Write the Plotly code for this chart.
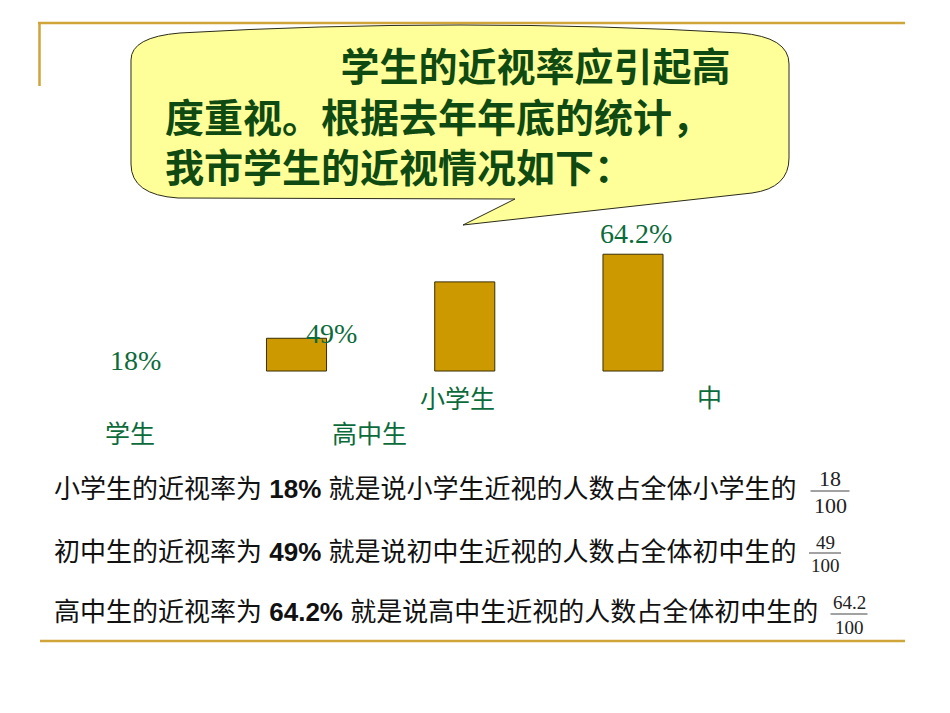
import plotly.graph_objects as go

# ---------------- data ----------------
CATEGORIES = ["小学生", "初中生", "高中生"]
RATES = [18, 49, 64.2]
DENOMINATOR = 100
BUBBLE_LINES = ["学生的近视率应引起高", "度重视。根据去年年底的统计，", "我市学生的近视情况如下："]
CATEGORY_PIECES = ["小学生", "中", "学生", "高中生"]
SENTENCE_HEADS = ["小学生的近视率为", "初中生的近视率为", "高中生的近视率为"]
SENTENCE_TAILS = ["就是说小学生近视的人数占全体小学生的",
                  "就是说初中生近视的人数占全体初中生的",
                  "就是说高中生近视的人数占全体初中生的"]

# ---------------- layout helpers ----------------
W, H = 950, 713


def px(x):
    return x / W


def py(y):
    return 1 - y / H


GOLD = "#CFA53A"
GREEN = "#0B6B3A"
DARK_GREEN = "#0E4A12"

fig = go.Figure(
    go.Bar(
        x=CATEGORIES,
        y=RATES,
        width=0.357,
        marker=dict(color="#CC9900", line=dict(color="#3A2E00", width=1)),
        hoverinfo="skip",
    )
)

shapes = []
# decorative gold frame lines
shapes.append(dict(type="line", xref="paper", yref="paper", x0=px(38), x1=px(905), y0=py(23), y1=py(23),
                   line=dict(color=GOLD, width=2.5)))
shapes.append(dict(type="line", xref="paper", yref="paper", x0=px(39.5), x1=px(39.5), y0=py(23), y1=py(86),
                   line=dict(color=GOLD, width=2.5)))
shapes.append(dict(type="line", xref="paper", yref="paper", x0=px(40), x1=px(905), y0=py(641), y1=py(641),
                   line=dict(color=GOLD, width=2.5)))

# speech bubble
pts = [
    ("M", [(131, 60)]),
    ("L", [(131, 164)]),
    ("Q", [(131, 195), (178, 198)]),
    ("L", [(515, 199)]),
    ("L", [(463, 225)]),
    ("L", [(752, 193)]),
    ("Q", [(789, 188), (789, 158)]),
    ("L", [(789, 64)]),
    ("Q", [(789, 37), (740, 33)]),
    ("Q", [(460, 17), (180, 33)]),
    ("Q", [(131, 37), (131, 60)]),
]
path = ""
for cmd, coords in pts:
    path += cmd + " " + " ".join(f"{px(x):.5f},{py(y):.5f}" for x, y in coords) + " "
path += "Z"
shapes.append(dict(type="path", xref="paper", yref="paper", path=path,
                   fillcolor="#FFFF99", line=dict(color="#2B2B1A", width=1), layer="above"))

annotations = []


def ann(text, x, y, size, color, family, xanchor="center", align="center"):
    annotations.append(dict(text=text, x=px(x), y=py(y), xref="paper", yref="paper",
                            xanchor=xanchor, yanchor="middle", showarrow=False, align=align,
                            font=dict(size=size, color=color, family=family)))


# bubble text: one block, first line indented
indent = "\u3000\u3000\u3000\u3000\u2002"
bubble_text = "<br>".join([indent + BUBBLE_LINES[0]] + BUBBLE_LINES[1:])
ann(f"<b>{bubble_text}</b>", 163, 114, 39, DARK_GREEN, "Noto Sans CJK SC", "left", "left")

# value labels (misplaced as in the original slide)
value_pos = [(135, 360), (331, 334), (636, 233)]
for v, (x, y) in zip(RATES, value_pos):
    ann(f"{v:g}%", x, y, 28, GREEN, "Liberation Serif")

# category label pieces (wrapped text box)
cat_pos = [(457, 397), (709, 396), (130, 432), (369, 432)]
for t, (x, y) in zip(CATEGORY_PIECES, cat_pos):
    ann(t, x, y, 25, GREEN, "Noto Sans CJK SC")

# explanation sentences
sent_y = [489, 552, 612]
for head, v, tail, y in zip(SENTENCE_HEADS, RATES, SENTENCE_TAILS, sent_y):
    ann(f"{head} <b>{v:g}%</b> {tail}", 52, y, 26, "#111111", "Liberation Sans, Noto Sans CJK SC", "left")

# fractions
frac_layout = [  # center x, numerator y, bar y, denominator y, bar half width, font size
    (830, 478, 491, 505, 19.5, 22),
    (825, 542, 553, 565, 16, 19),
    (849, 602, 614, 627, 18.5, 19),
]
for v, (cx, ny, by, dy, hw, fs) in zip(RATES, frac_layout):
    ann(f"{v:g}", cx, ny, fs, "#222222", "Liberation Serif")
    ann(f"{DENOMINATOR}", cx, dy, fs, "#222222", "Liberation Serif")
    shapes.append(dict(type="line", xref="paper", yref="paper", x0=px(cx - hw), x1=px(cx + hw),
                       y0=py(by), y1=py(by), line=dict(color="#444444", width=1)))

fig.update_layout(
    width=W, height=H,
    margin=dict(l=0, r=0, t=0, b=0),
    paper_bgcolor="white", plot_bgcolor="rgba(0,0,0,0)",
    showlegend=False,
    xaxis=dict(type="category", range=[-1.7623, 3.8841], visible=False, fixedrange=True),
    yaxis=dict(range=[-188.0, 203.96], visible=False, fixedrange=True),
    shapes=shapes,
    annotations=annotations,
)

fig.write_html("out.html", config={"displayModeBar": False})
